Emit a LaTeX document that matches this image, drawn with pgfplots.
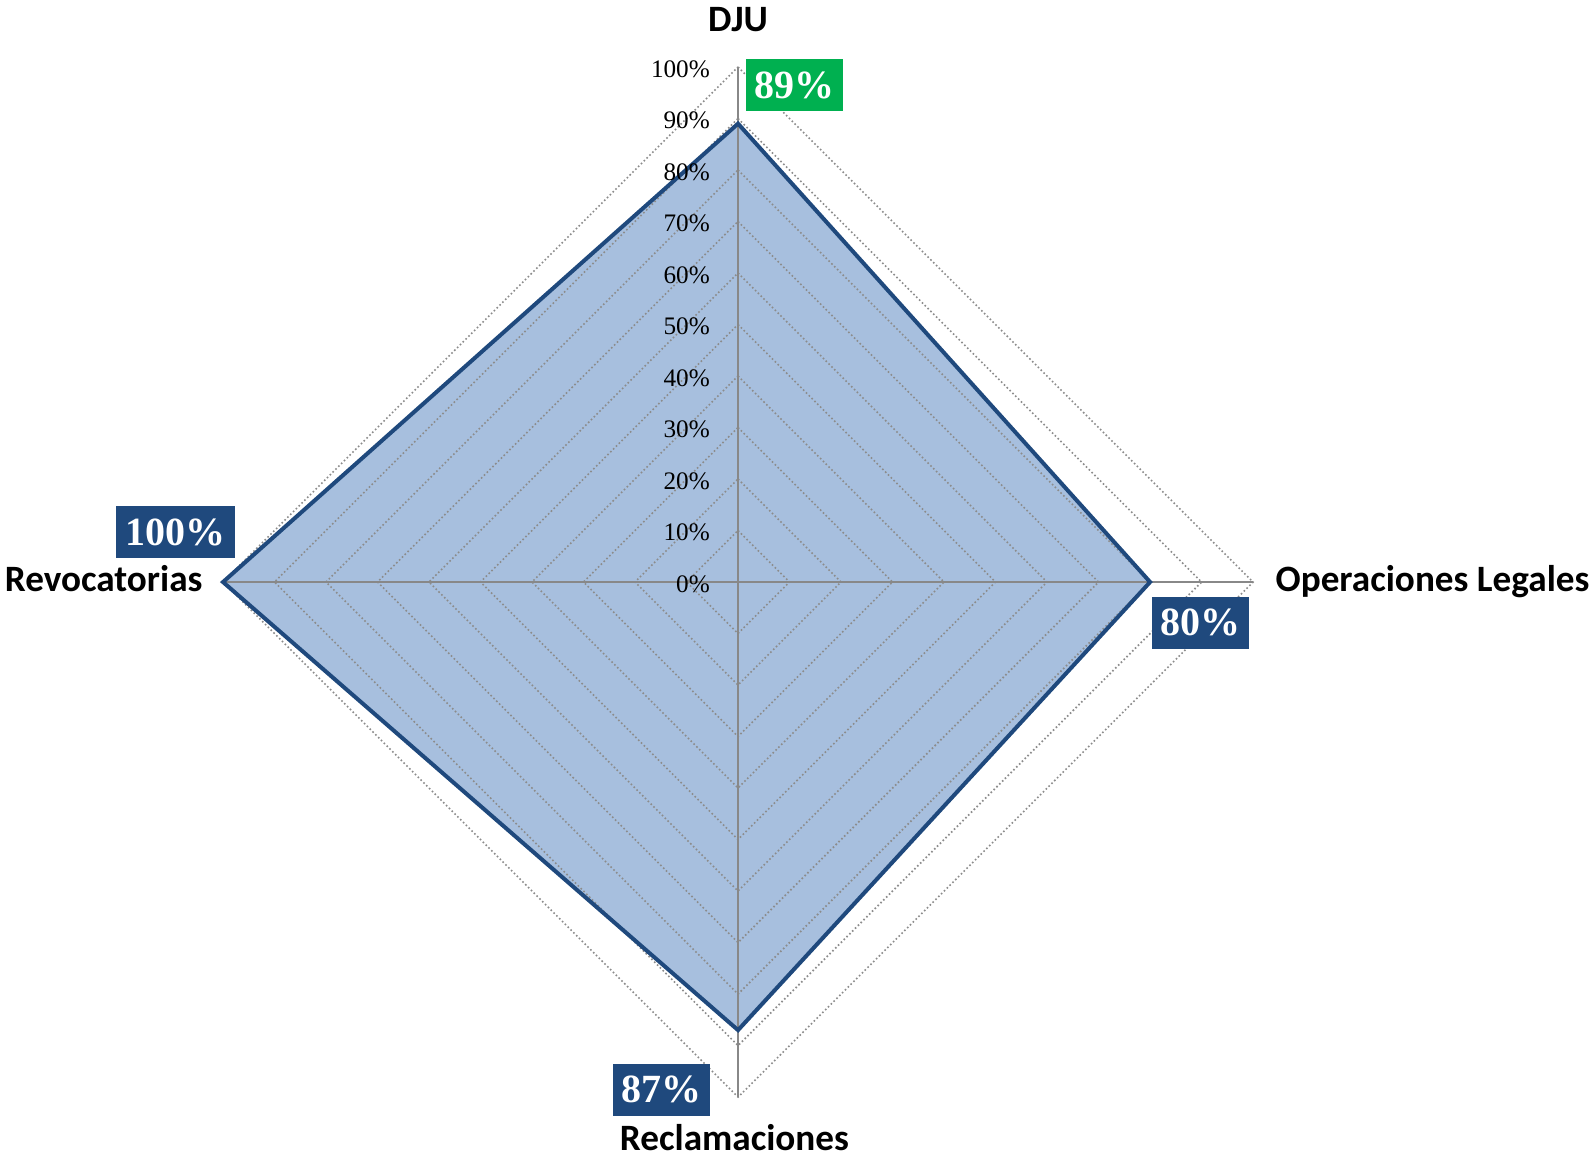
\documentclass[border=0pt]{standalone}
\usepackage{fontspec}
\setmainfont{Liberation Serif}
\newfontfamily\lab{Carlito}
\usepackage{pgfplots}
\pgfplotsset{compat=1.18}
\definecolor{fillc}{HTML}{A7BFDE}
\definecolor{linec}{HTML}{1F497D}
\definecolor{boxb}{HTML}{1F497D}
\definecolor{boxg}{HTML}{00B050}
\definecolor{gridc}{HTML}{8C8C8C}
\definecolor{spokec}{HTML}{888888}
\begin{document}
\begin{tikzpicture}
\begin{axis}[
  x=2.575pt, y=2.575pt,
  xmin=-143.3, xmax=166.0, ymin=-112.04, ymax=113.01,
  hide axis, clip=false,
  grid line/.style={gridc, line width=0.8pt, dash pattern=on 0.8pt off 1.2pt, forget plot},
]
% series fill
\addplot[fill=fillc, draw=none, forget plot] coordinates {(0,89) (80,0) (0,-87) (-100,0) (0,89)};
% grid
\addplot[grid line] coordinates {(0,10) (10,0) (0,-10) (-10,0) (0,10)};
\addplot[grid line] coordinates {(0,20) (20,0) (0,-20) (-20,0) (0,20)};
\addplot[grid line] coordinates {(0,30) (30,0) (0,-30) (-30,0) (0,30)};
\addplot[grid line] coordinates {(0,40) (40,0) (0,-40) (-40,0) (0,40)};
\addplot[grid line] coordinates {(0,50) (50,0) (0,-50) (-50,0) (0,50)};
\addplot[grid line] coordinates {(0,60) (60,0) (0,-60) (-60,0) (0,60)};
\addplot[grid line] coordinates {(0,70) (70,0) (0,-70) (-70,0) (0,70)};
\addplot[grid line] coordinates {(0,80) (80,0) (0,-80) (-80,0) (0,80)};
\addplot[grid line] coordinates {(0,90) (90,0) (0,-90) (-90,0) (0,90)};
\addplot[grid line] coordinates {(0,100) (100,0) (0,-100) (-100,0) (0,100)};
% spokes
\addplot[spokec, line width=1.4pt, forget plot] coordinates {(0,-100) (0,100)};
\addplot[spokec, line width=1.4pt, forget plot] coordinates {(-100,0) (100,0)};
% series outline
\addplot[linec, line width=2pt, line join=miter, forget plot] coordinates {(0,89) (80,0) (0,-87) (-100,0) (0,89) (80,0)};
% tick labels
\pgfplotsinvokeforeach{0,10,...,100}{
  \node[anchor=east, inner sep=0pt, font=\fontsize{12.6}{12.6}\selectfont] at (axis cs:-5.4,#1-0.4) {#1\%};
}
% data labels
\node[fill=boxg, text=white, inner sep=0pt, minimum width=48.5pt, minimum height=26pt, font=\bfseries\fontsize{20}{20}\selectfont] at (axis cs:11.0,96.5) {89\%};
\node[fill=boxb, text=white, inner sep=0pt, minimum width=48.5pt, minimum height=26pt, font=\bfseries\fontsize{20}{20}\selectfont] at (axis cs:89.8,-7.9) {80\%};
\node[fill=boxb, text=white, inner sep=0pt, minimum width=59.5pt, minimum height=26pt, font=\bfseries\fontsize{20}{20}\selectfont] at (axis cs:-109.2,9.7) {100\%};
\node[fill=boxb, text=white, inner sep=0pt, minimum width=48.5pt, minimum height=26pt, font=\bfseries\fontsize{20}{20}\selectfont] at (axis cs:-14.9,-98.6) {87\%};
% category labels
\node[anchor=base, inner sep=0pt, font=\lab\bfseries\fontsize{18.6}{18.6}\selectfont] at (axis cs:0,106.8) {DJU};
\node[anchor=base west, inner sep=0pt, font=\lab\bfseries\fontsize{18.6}{18.6}\selectfont] at (axis cs:104.3,-1.9) {Operaciones Legales};
\node[anchor=base east, inner sep=0pt, font=\lab\bfseries\fontsize{18.6}{18.6}\selectfont] at (axis cs:-103.9,-1.9) {Revocatorias};
\node[anchor=base, inner sep=0pt, font=\lab\bfseries\fontsize{18.6}{18.6}\selectfont] at (axis cs:-0.7,-110.3) {Reclamaciones};
\coordinate (ll) at (rel axis cs:0,0);
\coordinate (ur) at (rel axis cs:1,1);
\end{axis}
\pgfresetboundingbox
\path[use as bounding box] (ll) rectangle (ur);
\end{tikzpicture}
\end{document}
